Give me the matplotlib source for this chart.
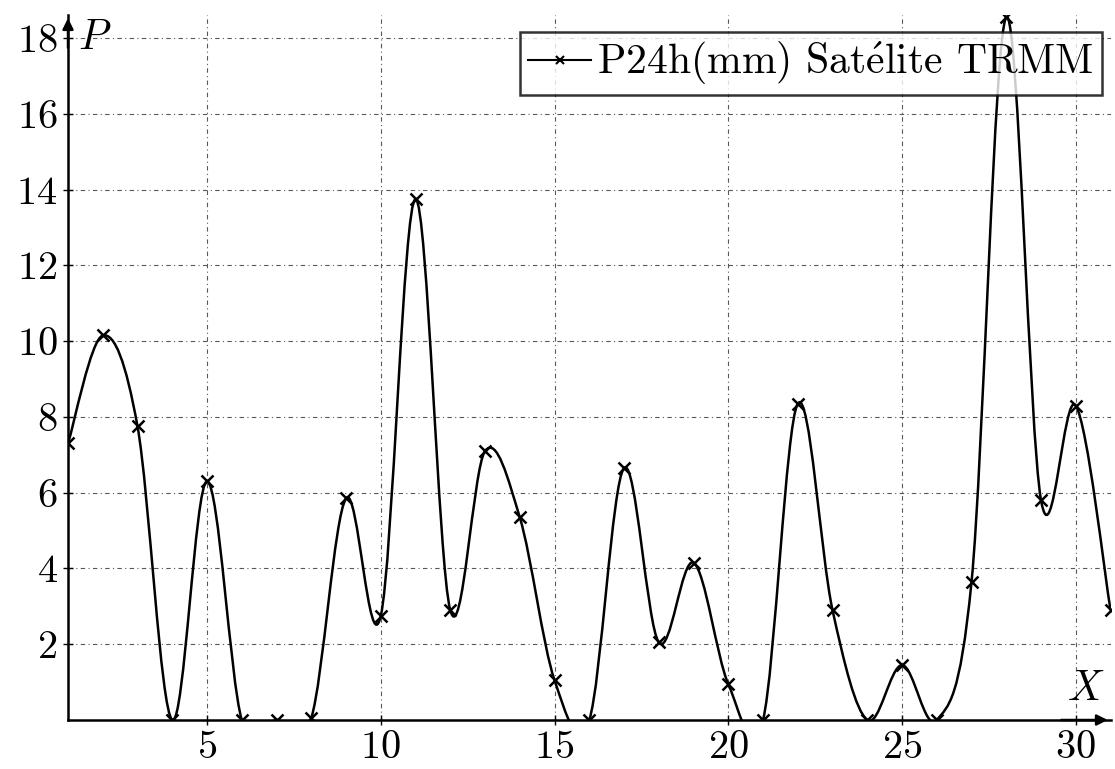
import numpy as np
import matplotlib
matplotlib.use("Agg")
import matplotlib.pyplot as plt
from matplotlib.path import Path
from matplotlib.patches import PathPatch
from matplotlib.lines import Line2D

plt.rcParams['font.family'] = ['cmr10', 'DejaVu Serif']
plt.rcParams['mathtext.fontset'] = 'cm'
plt.rcParams['axes.formatter.use_mathtext'] = True

# daily values
days = [1, 2, 3, 4, 5, 6, 7, 8, 9, 10, 11, 12, 13, 14, 15, 16,
        17, 18, 19, 20, 21, 22, 23, 24, 25, 26, 27, 28, 29, 30, 31]
p24h = [7.3, 10.15, 7.75, 0.0, 6.3, 0.0, 0.0, 0.05, 5.85, 2.75, 13.75,
        2.9, 7.1, 5.35, 1.05, 0.0, 6.65, 2.05, 4.15, 0.95, 0.0, 8.35,
        2.9, 0.0, 1.45, 0.0, 3.65, 18.55, 5.8, 8.3, 2.9]
xticks = [5, 10, 15, 20, 25, 30]
yticks = [2, 4, 6, 8, 10, 12, 14, 16, 18]
legend_label = r"P24h(mm) Sat$\mathrm{\acute{e}}$lite TRMM"


def smooth_path(x, y, k=0.17):
    # tikz-like "smooth": cubic bezier with control points along neighbour chords
    pts = np.column_stack([x, y]).astype(float)
    n = len(pts)
    verts = [pts[0]]
    codes = [Path.MOVETO]
    for i in range(n - 1):
        p0, p1 = pts[i], pts[i + 1]
        d0 = pts[i + 1] - pts[i - 1] if i > 0 else pts[1] - pts[0]
        d1 = pts[i + 2] - pts[i] if i + 2 < n else pts[-1] - pts[-2]
        verts += [p0 + k * d0, p1 - k * d1, p1]
        codes += [Path.CURVE4] * 3
    return Path(verts, codes)


fig = plt.figure(figsize=(11.15, 7.69), dpi=100)
ax = fig.add_axes([0.061, 0.0637, 0.935, 0.9163])
ax.set_xlim(1, 31)
ax.set_ylim(0, 18.6)

ax.add_patch(PathPatch(smooth_path(days, p24h), facecolor='none',
                       edgecolor='black', lw=1.8, zorder=3))
ax.plot(days, p24h, ls='none', marker='x', ms=8, mew=1.8, color='black', zorder=4)

ax.set_xticks(xticks)
ax.set_yticks(yticks)
ax.tick_params(direction='inout', length=7, width=1, labelsize=29, pad=4)
ax.grid(True, color='0.35', lw=0.8, linestyle=(0, (4, 3, 1, 3)))

for s in ['top', 'right']:
    ax.spines[s].set_visible(False)
for s in ['left', 'bottom']:
    ax.spines[s].set_linewidth(1.8)

ax.annotate('', xy=(0, 1.0), xytext=(0, 0.95), xycoords='axes fraction',
            arrowprops=dict(arrowstyle='-|>', color='black', lw=1.8, mutation_scale=16))
ax.annotate('', xy=(1.0, 0), xytext=(0.95, 0), xycoords='axes fraction',
            arrowprops=dict(arrowstyle='-|>', color='black', lw=1.8, mutation_scale=16))

ax.text(1.3, 18.0, '$P$', fontsize=30, va='center', ha='left')
ax.text(29.75, 0.8, '$X$', fontsize=30, va='center', ha='left')

handle = Line2D([], [], color='black', lw=1.5, marker='x', ms=6, mew=1.5)
leg = ax.legend([handle], [legend_label], loc='upper right',
                bbox_to_anchor=(0.992, 0.977), fontsize=30, frameon=True,
                fancybox=False, edgecolor='black', handlelength=1.5,
                handletextpad=0.15, borderpad=0.2, borderaxespad=0)
leg.get_frame().set_linewidth(1.8)
leg.set_zorder(5)

fig.savefig('out.png', dpi=100, facecolor='white')
